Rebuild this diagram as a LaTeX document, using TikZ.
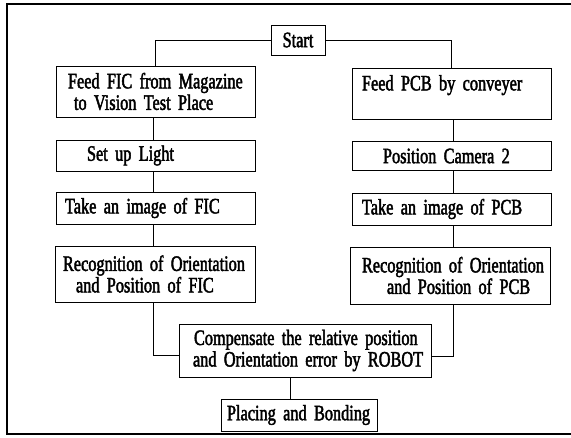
\documentclass[tikz,border=0pt]{standalone}
\usepackage{fontspec}
\setmainfont[FakeStretch=0.74,FakeBold=2]{Liberation Serif}
\begin{document}
\begin{tikzpicture}[x=1pt,y=-1pt,
  box/.style={draw, line width=0.9pt, inner sep=0pt, align=left,
    font=\fontsize{22}{21.5}\selectfont},
  link/.style={line width=0.9pt}]
\useasboundingbox (0,0) rectangle (571,438);
\draw[line width=1.5pt] (590,4) -- (7,4) -- (7,434) -- (590,434);

\coordinate (lx) at (153,0);
\coordinate (rx) at (453,0);
\coordinate (cx) at (290,0);

\node[box, text width=54pt, minimum height=30pt, align=center] (start) at (298,40) {Start};

\node[box, text width=199pt, minimum height=51pt] (ffic) at (155.5,91.5)
  {\hspace*{12pt}Feed FIC from Magazine\\\hspace*{18pt}to Vision Test Place};
\node[box, text width=199pt, minimum height=51pt] (fpcb) at (451.5,93.5)
  {\hspace*{10pt}Feed PCB by conveyer\\\mbox{}};

\node[box, text width=199pt, minimum height=31pt] (light) at (155.5,155.5)
  {\hspace*{31pt}Set up Light};
\node[box, text width=199pt, minimum height=29pt] (cam) at (451.5,156)
  {\hspace*{31pt}Position Camera 2};

\node[box, text width=199pt, minimum height=32pt] (tfic) at (155.5,208)
  {\hspace*{9pt}Take an image of FIC};
\node[box, text width=199pt, minimum height=32pt] (tpcb) at (451.5,209)
  {\hspace*{10pt}Take an image of PCB};

\node[box, text width=200pt, minimum height=56pt] (rfic) at (155,274)
  {\hspace*{8pt}Recognition of Orientation\\\hspace*{21pt}and Position of FIC};
\node[box, text width=200pt, minimum height=57pt] (rpcb) at (450,275.5)
  {\hspace*{12pt}Recognition of Orientation\\\hspace*{37pt}and Position of PCB};

\node[box, text width=252pt, minimum height=53pt] (comp) at (305,350.5)
  {\hspace*{15pt}Compensate the relative position\\\hspace*{14pt}and Orientation error by ROBOT};

\node[box, text width=156pt, minimum height=32pt] (place) at (299,415)
  {\hspace*{6pt}Placing and Bonding};

\draw[link] (start.west) -| (ffic.north);
\draw[link] (start.east) -| (fpcb.north);
\draw[link] (ffic.south -| lx) -- (light.north -| lx);
\draw[link] (light.south -| lx) -- (tfic.north -| lx);
\draw[link] (tfic.south -| lx) -- (rfic.north -| lx);
\draw[link] (fpcb.south -| rx) -- (cam.north -| rx);
\draw[link] (cam.south -| rx) -- (tpcb.north -| rx);
\draw[link] (tpcb.south -| rx) -- (rpcb.north -| rx);
\draw[link] (rfic.south -| lx) |- ([yshift=-4.5pt]comp.west);
\draw[link] (rpcb.south -| rx) |- ([yshift=-5.5pt]comp.east);
\draw[link] (comp.south -| cx) -- (place.north -| cx);
\end{tikzpicture}
\end{document}
